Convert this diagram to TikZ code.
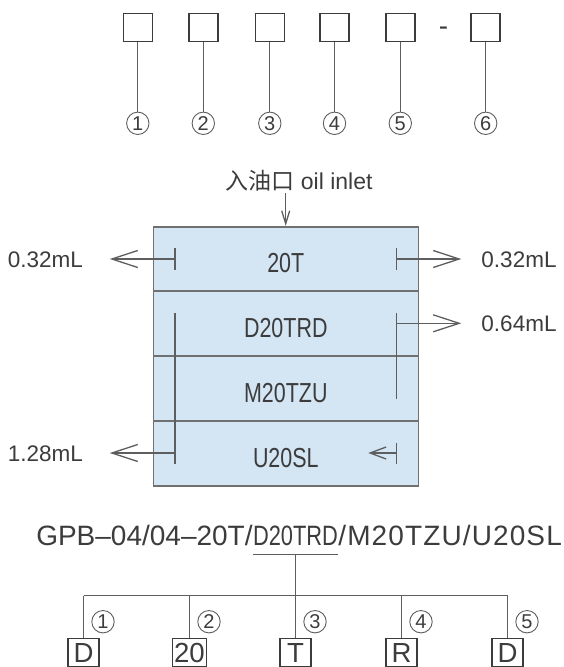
\documentclass[tikz,border=0pt]{standalone}
\usepackage{fontspec}
\setmainfont{Liberation Sans}
\newfontfamily\condfont[FakeStretch=0.78]{Liberation Sans}
\newfontfamily\spacedfont[LetterSpace=4]{Liberation Sans}
\newfontfamily\cjkfont{Noto Sans CJK SC}
\usetikzlibrary{arrows.meta,calc}
\definecolor{ink}{HTML}{3C3C3C}
\definecolor{linegray}{HTML}{5E5E5E}
\definecolor{boxfill}{HTML}{D4E5F4}
\definecolor{boxedge}{HTML}{707070}
\begin{document}
\begin{tikzpicture}[x=1pt,y=-1pt,
  every node/.style={text=ink},
  wire/.style={draw=linegray, line width=1.3pt},
  barb/.style={wire, -{Straight Barb[length=26pt,width=17pt]}},
  shortbarb/.style={wire, -{Straight Barb[length=16pt,width=12pt]}},
  smallbarb/.style={wire, -{Straight Barb[length=13pt,width=8pt]}},
  sq/.style={draw=ink, line width=1.5pt, minimum width=29pt, minimum height=28pt, inner sep=0pt},
  num/.style={circle, draw=linegray, line width=0.9pt, minimum size=22.4pt, inner sep=0pt,
              font=\fontsize{20}{20}\selectfont, text height=14.3pt, text depth=0pt},
  row/.style={draw=boxedge, fill=boxfill, line width=1.6pt, minimum width=265pt, inner sep=0pt,
              font=\condfont\fontsize{27.5}{30}\selectfont, text height=27.7pt, text depth=0pt},
  lab/.style={inner sep=0pt, font=\fontsize{22.5}{24}\selectfont, text height=16.1pt, text depth=0pt},
  kbox/.style={draw=ink, line width=1.3pt, minimum width=31pt, minimum height=28pt,
               inner xsep=1.5pt, inner ysep=0pt, font=\fontsize{27.6}{30}\selectfont,
               text height=19.8pt, text depth=0pt},
  gpb/.style={inner sep=0pt, font=\fontsize{28}{30}\selectfont}
]
\useasboundingbox (0,0) rectangle (564,667);

% ---------- top: code positions ----------
\foreach \i/\x in {1/137.8,2/203.3,3/269.8,4/334.5,5/400.3,6/485.7}{
  \node[sq] (s\i) at (\x,27.3) {};
  \node[num] (c\i) at (\x,123.3) {\i};
  \draw[wire] (s\i) -- (c\i);
}
\node[font=\fontsize{28}{28}\selectfont, text height=15.1pt, text depth=0pt, inner sep=0pt] (dash) at (443.5,27.7) {-};

% ---------- middle: valve stack ----------
\node[anchor=base, inner sep=0pt, font=\fontsize{23}{25}\selectfont] (inlet) at (299,189)
  {{\cjkfont 入油口}\ oil inlet};
\node[row, minimum height=64.3pt] (r1) at (285.8,258.85) {20T};
\node[row, minimum height=64.7pt] (r2) at (285.8,323.35) {D20TRD};
\node[row, minimum height=65pt]   (r3) at (285.8,388.2) {M20TZU};
\node[row, minimum height=65pt]   (r4) at (285.8,453.2) {U20SL};

\coordinate (inA) at (285.7,193);
\draw[smallbarb] (inA) -- (inA |- r1.north);

\node[lab] (lab1) at (45.3,259) {0.32mL};
\node[lab] (lab2) at (519,259) {0.32mL};
\node[lab] (lab3) at (519,323.3) {0.64mL};
\node[lab] (lab4) at (45.3,453) {1.28mL};

% row 1 ticks and outlets
\coordinate (tl1) at (175,259);
\coordinate (tl1a) at (175,248.3);
\coordinate (tl1b) at (175,270);
\coordinate (tr1) at (396.7,259);
\coordinate (tr1a) at (396.7,248.3);
\coordinate (tr1b) at (396.7,270);
\draw[wire] (tl1a) -- (tl1b);
\draw[wire] (tr1a) -- (tr1b);
\draw[barb, shorten >=26.7pt] (tl1) -- (lab1);
\draw[barb, shorten >=20pt] (tr1) -- (lab2);

% long channels
\coordinate (la) at (175,313.3);
\coordinate (lb) at (175,464);
\coordinate (ra) at (396.7,313.3);
\coordinate (rb) at (396.7,399);
\draw[wire] (la) -- (lb);
\draw[wire] (ra) -- (rb);
\coordinate (tr2) at (396.7,323.3);
\draw[barb, shorten >=20pt] (tr2) -- (lab3);
\coordinate (tl4) at (175,453);
\draw[barb, shorten >=26.7pt] (tl4) -- (lab4);

% row 4 right
\coordinate (tr4) at (396.7,453);
\coordinate (tr4a) at (396.7,443);
\coordinate (tr4b) at (396.7,464);
\coordinate (tip4) at (368.3,453);
\draw[wire] (tr4a) -- (tr4b);
\draw[shortbarb] (tr4) -- (tip4);

% ---------- bottom: model code ----------
\node[gpb, anchor=base, font=\condfont\fontsize{28}{30}\selectfont] (g2) at (295.5,545) {D20TRD};
\node[gpb, anchor=base east] (g1) at (g2.base west) {GPB–04/04–20T/};
\node[gpb, anchor=base west, font=\spacedfont\fontsize{28}{30}\selectfont] (g3) at (g2.base east) {/M20TZU/U20SL};

\coordinate (ulA) at ($(g2.base west)+(0,9.3)$);
\coordinate (ulB) at ($(g2.base east)+(0,9.3)$);
\draw[wire] (ulA) -- (ulB);
\coordinate (ulm) at ($(ulA)!0.5!(ulB)$);
\coordinate (hub) at (295.5,595.7);

\foreach \i/\x/\t in {1/83.5/D,2/189.5/20,3/295.5/T,4/401.5/R,5/507.5/D}{
  \node[kbox] (k\i) at (\x,652.2) {\t};
  \node[num] (n\i) at (\x+19.5,621.7) {\i};
  \draw[wire] (k\i |- hub) -- (k\i.north);
}
\draw[wire] (ulm) -- (ulm |- hub);
\draw[wire] (k1 |- hub) -- (k5 |- hub);
\end{tikzpicture}
\end{document}
